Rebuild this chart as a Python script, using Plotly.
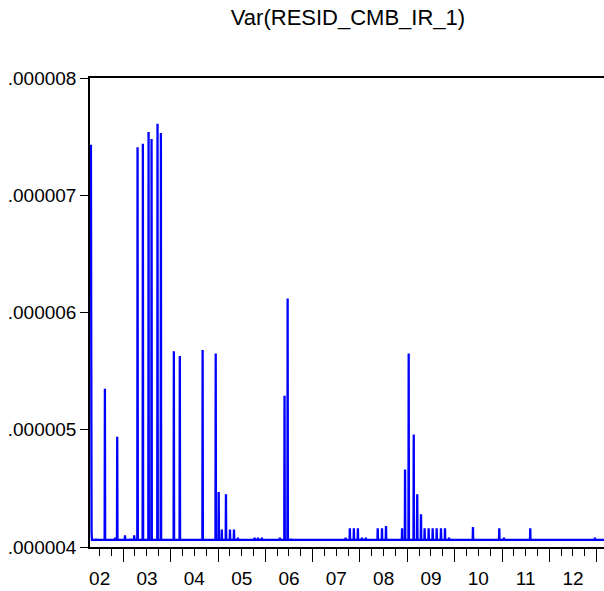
import plotly.graph_objects as go
import pandas as pd

# ---------------- data ----------------
title_text = "Var(RESID_CMB_IR_1)"
baseline = 4.06e-6
start_dates = ["2002-04-19", "2002-04-26", "2002-05-01"]
start_values = [7.00e-6, 7.43e-6, 4.13e-6]
end_date = "2013-02-26"

spike_dates = [
    "2002-06-03", "2002-08-12", "2002-10-30", "2002-11-15",
    "2003-01-14", "2003-02-26", "2003-03-26", "2003-04-21", "2003-06-01",
    "2003-07-15", "2003-08-07", "2003-09-22", "2003-10-18",
    "2004-01-26", "2004-03-12", "2004-09-04", "2004-12-14",
    "2005-01-06", "2005-01-30", "2005-03-03", "2005-04-03", "2005-05-04",
    "2005-06-03", "2005-10-10", "2005-11-05", "2005-12-05",
    "2006-04-23", "2006-05-29", "2006-06-22", "2006-07-17",
    "2007-09-12", "2007-10-15", "2007-11-15", "2007-12-16",
    "2008-01-16", "2008-02-15", "2008-05-17", "2008-06-19", "2008-07-20",
    "2008-11-21", "2008-12-14",
    "2009-01-11", "2009-02-19", "2009-03-18", "2009-04-16", "2009-05-14",
    "2009-06-14", "2009-07-15", "2009-08-15", "2009-09-17", "2009-10-18",
    "2009-11-18",
    "2010-05-22", "2010-12-11", "2011-01-16", "2011-08-07", "2012-12-18",
]
spike_values = [
    4.07, 5.35, 4.08, 4.94,
    4.10, 4.07, 4.10, 7.41, 7.44,
    7.54, 7.48, 7.61, 7.53,
    5.67, 5.63, 5.68, 5.65,
    4.47, 4.15, 4.45, 4.15, 4.15,
    4.08, 4.08, 4.08, 4.08,
    4.08, 5.29, 6.12, 4.07,
    4.08, 4.16, 4.16, 4.16,
    4.08, 4.08, 4.16, 4.16, 4.18,
    4.16, 4.66,
    5.65, 4.96, 4.45, 4.28, 4.16,
    4.16, 4.16, 4.16, 4.16, 4.16,
    4.08,
    4.17, 4.16, 4.08, 4.16, 4.08,
]
spike_values = [v * 1e-6 for v in spike_values]

y_tickvals = [4e-6, 5e-6, 6e-6, 7e-6, 8e-6]
y_ticktext = [".000004", ".000005", ".000006", ".000007", ".000008"]
x_range = ["2002-04-19", "2013-02-26"]

# ---------------- build series ----------------
xs = list(pd.to_datetime(start_dates))
ys = list(start_values)
xs.append(pd.Timestamp("2002-05-04"))
ys.append(baseline)
half = pd.Timedelta(days=2)
for d, v in zip(pd.to_datetime(spike_dates), spike_values):
    xs += [d - half, d, d + half]
    ys += [baseline, v, baseline]
xs.append(pd.Timestamp(end_date))
ys.append(baseline)

FONT = "Liberation Sans, Arial, sans-serif"

fig = go.Figure()
fig.add_trace(go.Scatter(x=xs, y=ys, mode="lines",
                         line=dict(color="#0000FF", width=2.3),
                         hoverinfo="skip", showlegend=False))

fig.update_layout(
    width=604, height=591,
    margin=dict(l=90, r=0, t=78, b=44),
    paper_bgcolor="white", plot_bgcolor="white",
    font=dict(family=FONT, color="black", size=19),
    title=dict(text=title_text, x=348 / 604, xref="container", xanchor="center",
               y=1 - 17 / 591, yref="container", yanchor="middle",
               font=dict(family=FONT, size=22, color="black")),
)
fig.update_xaxes(
    type="date", range=x_range, automargin=False,
    tick0="2002-01-01", dtick="M12", tickformat="%y", ticklabelmode="period",
    ticks="outside", ticklen=13, tickwidth=1, tickcolor="black",
    minor=dict(dtick="M3", ticks="outside", ticklen=7, tickwidth=1, tickcolor="black"),
    showline=True, linecolor="black", linewidth=1.5, mirror=True,
    showgrid=False, zeroline=False,
    tickfont=dict(family=FONT, size=19, color="black"),
)
fig.update_yaxes(
    range=[4e-6, 8e-6], tickmode="array", tickvals=y_tickvals, ticktext=y_ticktext,
    automargin=False,
    ticks="outside", ticklen=8, tickwidth=1, tickcolor="black",
    showline=True, linecolor="black", linewidth=1.5,
    showgrid=False, zeroline=False,
    tickfont=dict(family=FONT, size=19, color="black"),
)

fig.write_html("out.html")
